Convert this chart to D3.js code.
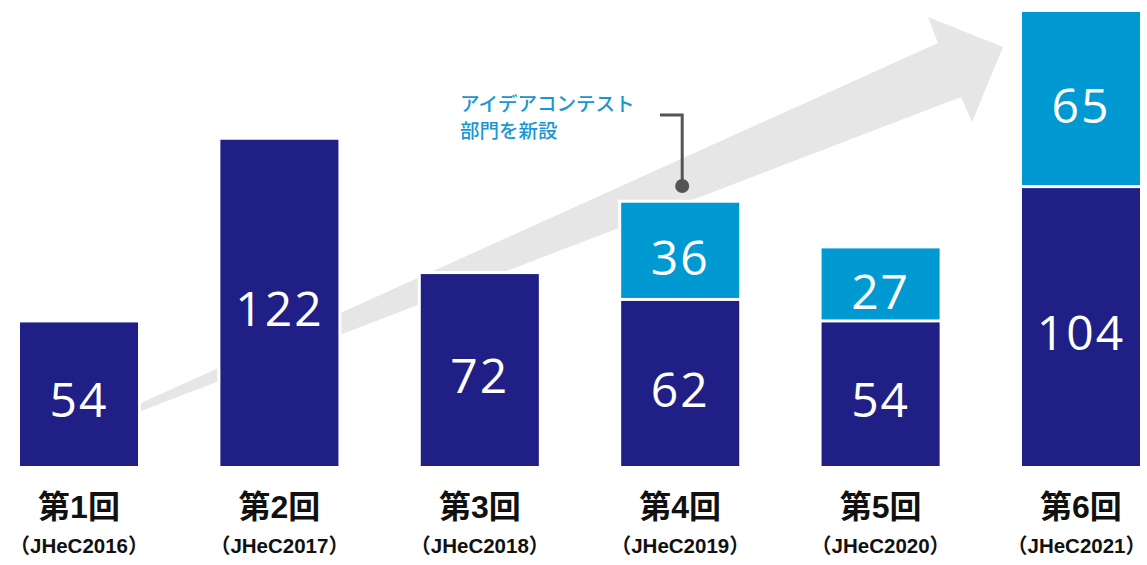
<!DOCTYPE html>
<html>
<head>
<meta charset="utf-8">
<script src="https://cdn.jsdelivr.net/npm/d3@7"></script>
<style>
  body { margin: 0; background: #fff; }
  svg { display: block; }
</style>
</head>
<body>
<div id="chart"></div>
<script>
const categories = ["第1回", "第2回", "第3回", "第4回", "第5回", "第6回"];
const subLabels = ["（JHeC2016）", "（JHeC2017）", "（JHeC2018）", "（JHeC2019）", "（JHeC2020）", "（JHeC2021）"];
const mainValues = [54, 122, 72, 62, 54, 104];
const ideaValues = [0, 0, 0, 36, 27, 65];
const noteLines = ["アイデアコンテスト", "部門を新設"];

const width = 1147, height = 565;
const colors = { main: "#1f1f86", idea: "#0099d1", arrow: "#e6e6e6", note: "#1a96d4", line: "#555555" };

const svg = d3.select("#chart").append("svg")
  .attr("width", width)
  .attr("height", height);

const x = d3.scaleBand()
  .domain(categories)
  .range([20, 1140])
  .paddingInner(0.411)
  .paddingOuter(0);

const y = d3.scaleLinear()
  .domain([0, 169])
  .range([466, 12]);

// big grey arrow behind the bars
const arrowPts = [[141, 403], [938, 43], [928, 17], [1003, 47], [972, 122], [961, 97], [141, 411]];
svg.append("polygon")
  .attr("points", arrowPts.map(p => p.join(",")).join(" "))
  .attr("fill", colors.arrow);

const rows = categories.map((c, i) => ({ cat: c, sub: subLabels[i], main: mainValues[i], idea: ideaValues[i] }));

const segs = [];
rows.forEach(r => {
  segs.push({ cat: r.cat, y0: 0, y1: r.main, value: r.main, color: colors.main });
  if (r.idea > 0) segs.push({ cat: r.cat, y0: r.main, y1: r.main + r.idea, value: r.idea, color: colors.idea });
});

const segY = d => y(d.y1) + (d.y0 > 0 ? 0 : 1.5);
const segH = d => y(d.y0) - y(d.y1) - 1.5;

// white halo so the arrow stops short of the bars
svg.selectAll("rect.bar-halo").data(segs).enter()
  .append("rect")
  .classed("bar-halo", true)
  .attr("x", d => x(d.cat))
  .attr("y", segY)
  .attr("width", x.bandwidth())
  .attr("height", segH)
  .attr("fill", "#ffffff")
  .attr("stroke", "#ffffff")
  .attr("stroke-width", 6);

svg.selectAll("rect.bar").data(segs).enter()
  .append("rect")
  .classed("bar", true)
  .attr("x", d => x(d.cat))
  .attr("y", segY)
  .attr("width", x.bandwidth())
  .attr("height", segH)
  .attr("fill", d => d.color);

svg.selectAll("text.bar-text").data(segs).enter()
  .append("text")
  .classed("bar-text", true)
  .attr("x", d => x(d.cat) + x.bandwidth() / 2)
  .attr("y", d => (y(d.y0) + y(d.y1)) / 2 + 24)
  .attr("text-anchor", "middle")
  .attr("fill", "#ffffff")
  .style("font", "400 48px 'Open Sans', Lato, sans-serif")
  .style("letter-spacing", "2px")
  .text(d => d.value);

svg.selectAll("text.cat").data(rows).enter()
  .append("text")
  .classed("cat", true)
  .attr("x", d => x(d.cat) + x.bandwidth() / 2)
  .attr("y", 518)
  .attr("text-anchor", "middle")
  .attr("fill", "#111111")
  .style("font", "700 32px 'Liberation Sans', 'Noto Sans CJK JP', sans-serif")
  .text(d => d.cat);

svg.selectAll("text.sub").data(rows).enter()
  .append("text")
  .classed("sub", true)
  .attr("x", d => x(d.cat) + x.bandwidth() / 2)
  .attr("y", 553)
  .attr("text-anchor", "middle")
  .attr("fill", "#111111")
  .style("font", "700 20.5px 'Liberation Sans', 'Noto Sans CJK JP', sans-serif")
  .text(d => d.sub)
  .each(function () {
    // keep the last label inside the picture
    const b = this.getBBox();
    const over = b.x + b.width - (width - 1);
    if (over > 0) d3.select(this).attr("x", +this.getAttribute("x") - over);
  });

// annotation for the new category
const note = svg.append("g");
note.selectAll("text").data(noteLines).enter()
  .append("text")
  .attr("x", 460)
  .attr("y", (d, i) => 111 + i * 27)
  .attr("fill", colors.note)
  .style("font", "500 19.5px 'Noto Sans CJK JP', sans-serif")
  .text(d => d);

const px = x("第4回") + x.bandwidth() / 2 + 2;
note.append("path")
  .attr("d", `M660,115 H${px} V184`)
  .attr("fill", "none")
  .attr("stroke", colors.line)
  .attr("stroke-width", 3);
note.append("circle")
  .attr("cx", px)
  .attr("cy", 186)
  .attr("r", 7)
  .attr("fill", colors.line);
</script>
</body>
</html>
